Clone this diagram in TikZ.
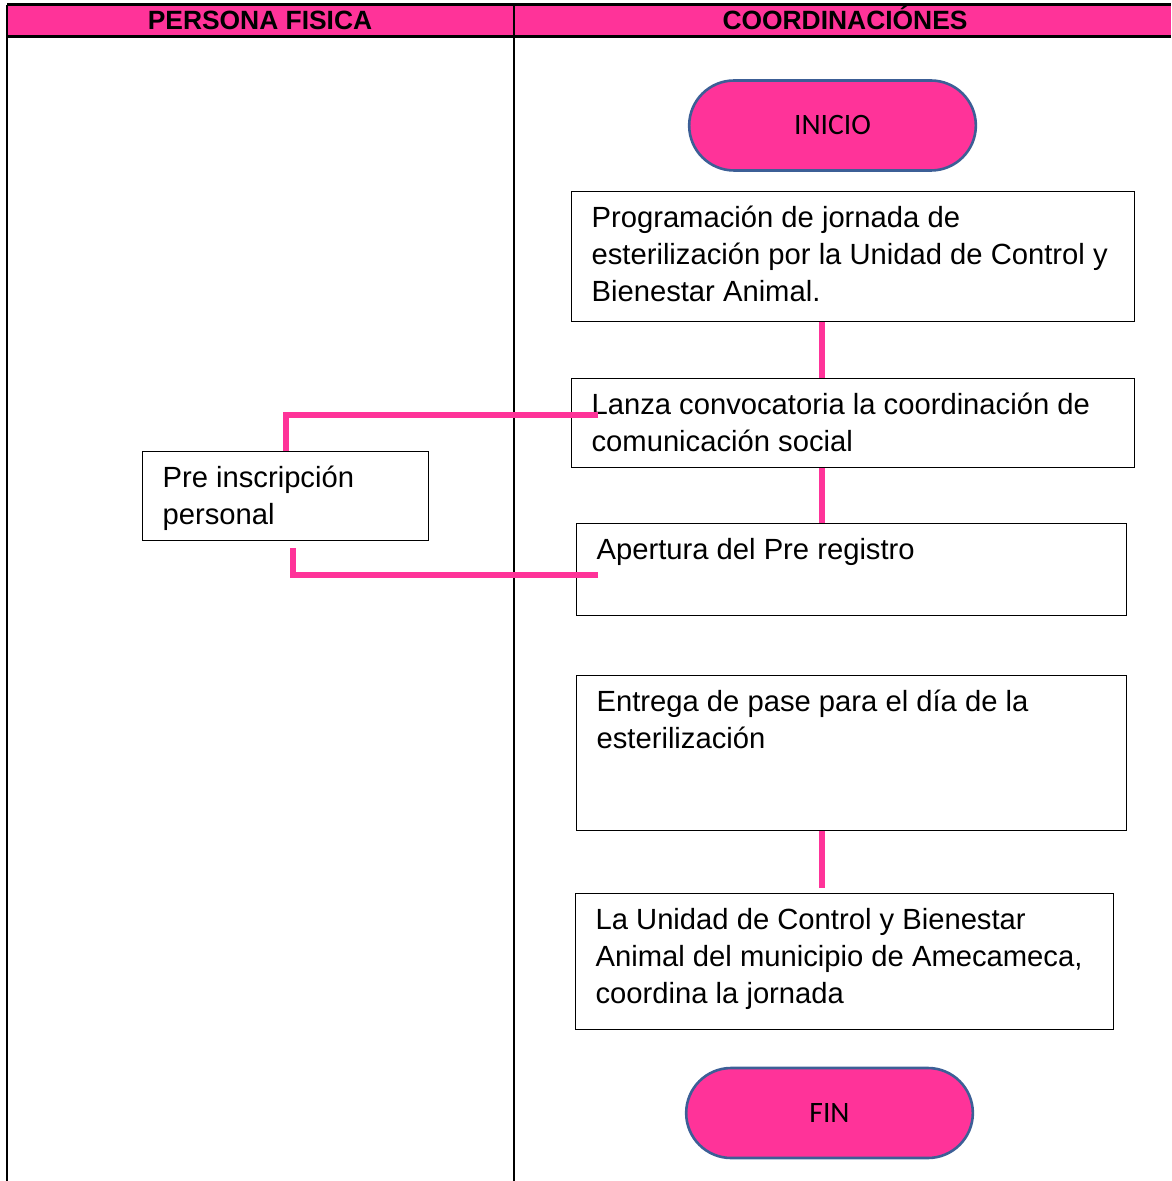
\documentclass[tikz,border=0pt]{standalone}
\usepackage{fontspec}
\setmainfont{Liberation Sans}
\newfontfamily\termfont{Carlito}
\usetikzlibrary{shapes.misc}
\definecolor{rosa}{HTML}{FF3399}
\definecolor{orla}{HTML}{3C5F96}
\newcommand{\cajatexto}[3]{\parbox[t][#2][t]{#1}{\raggedright\strut #3}}

\begin{document}
\begin{tikzpicture}[x=0.5pt,y=-0.5pt,
    paso/.style={draw, line width=0.6pt, anchor=north west, inner xsep=10pt, inner ysep=5pt,
      font=\fontsize{14.6pt}{18.5pt}\selectfont},
    terminal/.style={rounded rectangle, fill=rosa, draw=orla, line width=1.3pt,
      minimum width=150pt, minimum height=45pt, font=\termfont\fontsize{14.8pt}{16pt}\selectfont},
    cabeza/.style={anchor=base, font=\bfseries\fontsize{13.2pt}{16pt}\selectfont},
    enlace/.style={draw=rosa, line width=3pt}]
  \useasboundingbox (0,0) rectangle (1171,1181);
  % encabezado y carriles
  \fill[rosa] (7,5) rectangle (1171,37);
  \draw[line width=1.5pt] (7,5) -- (1171,5) (7,37) -- (1171,37);
  \draw[line width=1pt] (7,5) -- (7,1181) (514,5) -- (514,1181);
  \node[cabeza] (colA) at (260,30) {PERSONA FISICA};
  \node[cabeza] (colB) at (845,30) {COORDINACIÓNES};

  \node[terminal] (inicio) at (832.5,125.5) {INICIO};
  \node[paso] (prog) at (571,191) {\cajatexto{261.5pt}{55pt}{Programación de jornada de\\ \mbox{esterilización por la Unidad de Control y}\\ Bienestar Animal.}};
  \node[paso] (lanza) at (571,378) {\cajatexto{261.5pt}{34.5pt}{\mbox{Lanza convocatoria la coordinación de}\\ comunicación social}};
  \node[paso] (apert) at (576,523) {\cajatexto{255pt}{36pt}{Apertura del Pre registro}};
  \node[paso] (entrega) at (576,675) {\cajatexto{255pt}{67.5pt}{Entrega de pase para el día de la\\ esterilización}};
  \node[paso] (unidad) at (575,893) {\cajatexto{249pt}{58pt}{La Unidad de Control y Bienestar\\ \mbox{Animal del municipio de Amecameca,}\\ coordina la jornada}};
  \node[terminal] (fin) at (829.5,1113) {FIN};
  \node[paso] (preins) at (142,451) {\cajatexto{123pt}{34.5pt}{Pre inscripción\\ personal}};

  \coordinate (eje) at (822,0);
  \coordinate (tapA) at (598,415);
  \coordinate (tapB) at (598,575);
  \draw[enlace] (prog.south -| eje) -- (lanza.north -| eje);
  \draw[enlace] (lanza.south -| eje) -- (apert.north -| eje);
  \draw[enlace] (entrega.south -| eje) -- ([yshift=2.5pt]unidad.north -| eje);
  \draw[enlace] (tapA) -| (preins.north);
  \draw[enlace] (tapB) -| ([xshift=3.5pt,yshift=-3.5pt]preins.south);
\end{tikzpicture}
\end{document}
